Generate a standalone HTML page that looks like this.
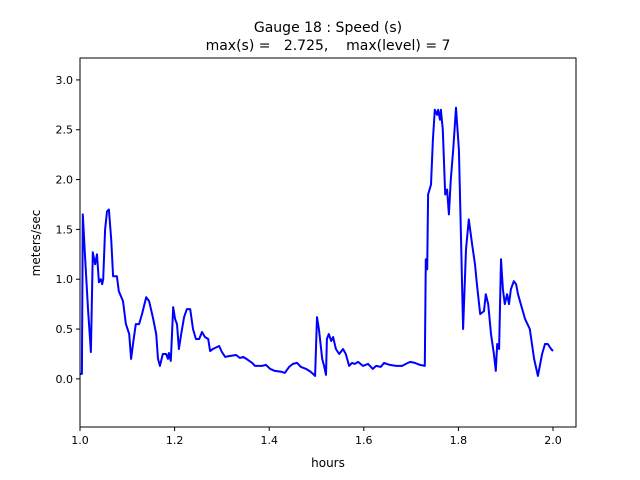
<!DOCTYPE html>
<html><head><meta charset="utf-8"><style>
html,body{margin:0;padding:0;background:#fff;}
svg{display:block;font-family:"DejaVu Sans","Liberation Sans",sans-serif;}
</style></head><body>
<svg id="chart" width="640" height="480">
<rect x="0" y="0" width="640" height="480" fill="#fff"/>
<text x="328" y="32" text-anchor="middle" font-size="14">Gauge 18 : Speed (s)</text>
<text x="328" y="50" text-anchor="middle" font-size="14" xml:space="preserve">max(s) =   2.725,    max(level) = 7</text>
<g id="plot"></g>
<text x="328" y="467" text-anchor="middle" font-size="12">hours</text>
<text transform="translate(40,243) rotate(-90)" text-anchor="middle" font-size="12">meters/sec</text>
</svg>
<script>
const hours=[1.000,1.004,1.006,1.011,1.017,1.023,1.027,1.032,1.036,1.040,1.044,1.047,1.049,1.053,1.057,1.061,1.066,1.070,1.078,1.082,1.091,1.097,1.104,1.108,1.112,1.118,1.125,1.131,1.140,1.146,1.154,1.161,1.165,1.169,1.175,1.182,1.186,1.188,1.192,1.197,1.201,1.205,1.209,1.214,1.220,1.226,1.233,1.239,1.245,1.252,1.258,1.264,1.271,1.275,1.281,1.294,1.300,1.307,1.317,1.330,1.338,1.345,1.355,1.364,1.370,1.385,1.393,1.402,1.412,1.427,1.433,1.442,1.450,1.459,1.467,1.478,1.488,1.497,1.501,1.505,1.512,1.516,1.520,1.522,1.526,1.531,1.535,1.541,1.548,1.556,1.562,1.569,1.575,1.581,1.588,1.598,1.609,1.619,1.626,1.636,1.643,1.655,1.668,1.681,1.689,1.698,1.708,1.719,1.729,1.731,1.734,1.736,1.742,1.746,1.750,1.755,1.757,1.761,1.763,1.767,1.772,1.776,1.780,1.784,1.789,1.795,1.801,1.805,1.810,1.816,1.822,1.829,1.835,1.839,1.846,1.854,1.858,1.863,1.869,1.875,1.879,1.882,1.886,1.890,1.894,1.898,1.903,1.907,1.911,1.917,1.922,1.926,1.932,1.941,1.951,1.960,1.968,1.977,1.983,1.989,1.996,2.000];
const speed=[0.05,0.05,1.65,1.2,0.7,0.27,1.27,1.15,1.25,0.97,1.0,0.95,1.0,1.5,1.68,1.7,1.4,1.03,1.03,0.88,0.78,0.55,0.45,0.2,0.35,0.55,0.55,0.65,0.82,0.78,0.62,0.45,0.2,0.13,0.25,0.25,0.2,0.26,0.18,0.72,0.6,0.55,0.3,0.45,0.62,0.7,0.7,0.5,0.4,0.4,0.47,0.42,0.4,0.28,0.3,0.33,0.27,0.22,0.23,0.24,0.21,0.22,0.19,0.16,0.13,0.13,0.14,0.1,0.08,0.07,0.06,0.12,0.15,0.16,0.12,0.1,0.07,0.03,0.62,0.5,0.2,0.13,0.04,0.4,0.45,0.38,0.42,0.3,0.25,0.3,0.25,0.13,0.16,0.15,0.17,0.13,0.15,0.1,0.13,0.12,0.16,0.14,0.13,0.13,0.15,0.17,0.16,0.14,0.13,1.2,1.1,1.85,1.95,2.4,2.7,2.65,2.7,2.6,2.7,2.5,1.85,1.9,1.65,2.0,2.3,2.72,2.3,1.5,0.5,1.3,1.6,1.35,1.15,0.95,0.65,0.68,0.85,0.75,0.45,0.25,0.08,0.35,0.3,1.2,0.9,0.75,0.85,0.75,0.9,0.98,0.95,0.85,0.75,0.6,0.5,0.2,0.03,0.25,0.35,0.35,0.3,0.28];
const xTicks=[1.0,1.2,1.4,1.6,1.8,2.0];
const xTickLabels=["1.0","1.2","1.4","1.6","1.8","2.0"];
const yTicks=[0,0.5,1,1.5,2,2.5,3];
const yTickLabels=["0.0","0.5","1.0","1.5","2.0","2.5","3.0"];

const L=80,R=576,T=58,B=427;
const xMin=1.0,xMax=2.0486,yMin=-0.483,yMax=3.22;
const xs=v=>L+(v-xMin)/(xMax-xMin)*(R-L);
const ys=v=>B-(v-yMin)/(yMax-yMin)*(B-T);
const NS="http://www.w3.org/2000/svg";
const g=document.getElementById('plot');
function mk(tag,attrs){const e=document.createElementNS(NS,tag);for(const k in attrs)e.setAttribute(k,attrs[k]);g.appendChild(e);return e;}

const line=mk('polyline',{points:hours.map((h,i)=>xs(h).toFixed(1)+','+ys(speed[i]).toFixed(1)).join(' '),fill:'none',stroke:'#0000ff','stroke-width':2,'stroke-linejoin':'round'});



const frame=mk('rect',{x:L,y:T,width:R-L,height:B-T,fill:'none',stroke:'#000','stroke-width':1});



xTicks.forEach((v,i)=>{
  const x=xs(v);
  const t=mk('line',{x1:x,x2:x,y1:B,y2:B+4,stroke:'#000'});
  
  
  const tx=mk('text',{x:x,y:B+17,'text-anchor':'middle','font-size':11});
  tx.textContent=xTickLabels[i];
  
  
});
yTicks.forEach((v,i)=>{
  const y=ys(v);
  const t=mk('line',{x1:L-4,x2:L,y1:y,y2:y,stroke:'#000'});
  
  
  const tx=mk('text',{x:L-7,y:y+4,'text-anchor':'end','font-size':11});
  tx.textContent=yTickLabels[i];
  
  
});
</script>
</body></html>
